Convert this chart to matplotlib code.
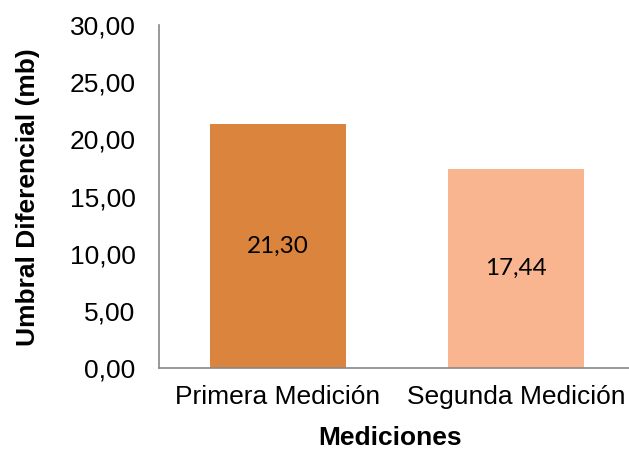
import matplotlib.pyplot as plt

categories = ["Primera Medición", "Segunda Medición"]
values = [21.30, 17.44]
bar_colors = ["#DB843D", "#F8B58F"]
yticks = [0, 5, 10, 15, 20, 25, 30]

W, H = 629, 449
fig = plt.figure(figsize=(W / 100, H / 100), dpi=100)
# axes spans from x=159 to ~635 (slightly clipped on the right), y=25 to 368
left, right, top, bottom = 159, 635, 25, 368
ax = fig.add_axes([left / W, 1 - bottom / H, (right - left) / W, (bottom - top) / H])

x = range(len(categories))
bars = ax.bar(x, values, width=0.571, color=bar_colors)

for b, v in zip(bars, values):
    ax.text(b.get_x() + b.get_width() / 2, v / 2, f"{v:.2f}".replace(".", ","),
            ha="center", va="center", fontsize=17.5, family="Lato", color="black")

ax.set_xlim(-0.5, 1.5)
ax.set_ylim(0, 30)
ax.set_yticks(yticks)
ax.set_yticklabels([f"{t:.2f}".replace(".", ",") for t in yticks],
                   fontsize=19, family="Liberation Sans")
ax.set_xticks(list(x))
ax.set_xticklabels(categories, fontsize=19, family="Liberation Sans")
ax.tick_params(length=0)
ax.tick_params(axis="x", pad=12)
ax.tick_params(axis="y", pad=17)

for s in ["top", "right"]:
    ax.spines[s].set_visible(False)
for s in ["left", "bottom"]:
    ax.spines[s].set_color("#888888")
    ax.spines[s].set_linewidth(1.2)

fig.text(28 / W, 1 - 197 / H, "Umbral Diferencial (mb)", rotation=90, ha="center", va="center",
         fontsize=19, fontweight="bold", family="Liberation Sans")
fig.text(390 / W, 1 - 438 / H, "Mediciones", ha="center", va="center",
         fontsize=19, fontweight="bold", family="Liberation Sans")

fig.savefig("out.png", dpi=100)
